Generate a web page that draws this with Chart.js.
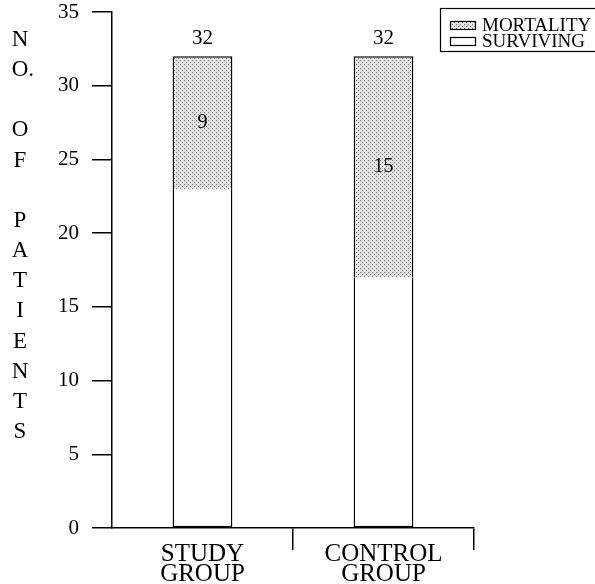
<!DOCTYPE html>
<html>
<head>
<meta charset="utf-8">
<script src="https://cdn.jsdelivr.net/npm/chart.js@4/dist/chart.umd.min.js"></script>
<style>
    body { margin: 0; background: #fff; }
    canvas { display: block; }
</style>
</head>
<body>
<canvas id="barChart1" width="595" height="584"></canvas>
<script>
// patients per group, stacked: surviving at the bottom, mortality on top
let categories = [['STUDY', 'GROUP'], ['CONTROL', 'GROUP']];
let surviving = [23, 17];
let mortality = [9, 15];
let yTicks = [0, 5, 10, 15, 20, 25, 30, 35];
let yTitle = ['N', 'O.', '', 'O', 'F', '', 'P', 'A', 'T', 'I', 'E', 'N', 'T', 'S'];

let serif = '"Liberation Serif", "Times New Roman", serif';

function dotPattern() {
    let c = document.createElement('canvas');
    c.width = 4;
    c.height = 4;
    let g = c.getContext('2d');
    g.fillStyle = '#e4e4e4';
    g.fillRect(0, 0, 4, 4);
    g.fillStyle = '#6a6a6a';
    g.fillRect(0, 0, 1, 1);
    g.fillRect(2, 2, 1, 1);
    return g.createPattern(c, 'repeat');
}

// vertical stacked-letter axis title, totals above bars, values inside, legend box
let extras = {
    id: 'extras',
    afterDraw: function (chart) {
        let ctx = chart.ctx;
        ctx.save();
        ctx.fillStyle = '#000';
        ctx.textBaseline = 'middle';

        // y axis title
        ctx.font = '23px ' + serif;
        for (let i = 0; i < yTitle.length; i++) {
            let t = yTitle[i];
            if (!t) continue;
            let y = 40 + i * 30.15;
            let w = ctx.measureText(t.charAt(0)).width;
            ctx.textAlign = 'left';
            ctx.fillText(t, 20 - w / 2, y);
        }

        // totals and mortality counts
        let top = chart.getDatasetMeta(1).data;
        ctx.textAlign = 'center';
        for (let i = 0; i < top.length; i++) {
            let bar = top[i];
            ctx.font = '21px ' + serif;
            ctx.fillText(String(surviving[i] + mortality[i]), bar.x, bar.y - 18);
            ctx.font = '20px ' + serif;
            ctx.fillText(String(mortality[i]), bar.x, (bar.y + bar.base) / 2);
        }

        // legend
        let ds = chart.data.datasets;
        ctx.lineWidth = 1.2;
        ctx.strokeStyle = '#000';
        ctx.strokeRect(440.5, 8.5, 170, 43);
        ctx.font = '19px ' + serif;
        ctx.textAlign = 'left';
        ctx.textBaseline = 'alphabetic';
        let rows = [ds[1], ds[0]];
        for (let i = 0; i < rows.length; i++) {
            let y = 21 + i * 16;
            ctx.fillStyle = rows[i].backgroundColor;
            ctx.fillRect(450, y, 25, 8);
            ctx.strokeRect(450.5, y + 0.5, 25, 8);
            ctx.fillStyle = '#000';
            ctx.fillText(rows[i].label, 482, y + 10);
        }
        ctx.restore();
    }
};

function dataChart() {
    let ctx = document.getElementById('barChart1').getContext('2d');
    let myChart = new Chart(ctx, {
        type: 'bar',
        data: {
            labels: categories,
            datasets: [{
                label: 'SURVIVING',
                data: surviving,
                backgroundColor: '#ffffff',
                borderColor: '#000000',
                borderWidth: { left: 1.5, right: 1.5, top: 0, bottom: 1.5 },
                borderSkipped: false
            }, {
                label: 'MORTALITY',
                data: mortality,
                backgroundColor: dotPattern(),
                borderColor: '#000000',
                borderWidth: { left: 1.5, right: 1.5, top: 1.5, bottom: 0 },
                borderSkipped: false
            }]
        },
        options: {
            responsive: false,
            animation: false,
            categoryPercentage: 1,
            barPercentage: 0.33,
            layout: { padding: { left: 0, right: 121, top: 12, bottom: 0 } },
            plugins: {
                legend: { display: false },
                tooltip: { enabled: false }
            },
            scales: {
                x: {
                    stacked: true,
                    afterFit: function (s) { s.height = 56; },
                    border: { display: true, color: '#000', width: 1.5 },
                    grid: {
                        offset: true,
                        drawOnChartArea: false,
                        tickLength: 22,
                        lineWidth: 1.5,
                        color: function (c) { return c.index === 0 ? 'rgba(0,0,0,0)' : '#000'; }
                    },
                    ticks: {
                        color: '#000',
                        padding: -6,
                        font: { family: serif, size: 25, lineHeight: 0.8 }
                    }
                },
                y: {
                    stacked: true,
                    min: 0,
                    max: 35,
                    afterFit: function (s) {
                        s.width = 112;
                        s.paddingTop = 0;
                        s.paddingBottom = 0;
                    },
                    afterBuildTicks: function (s) { s.ticks = yTicks.map(function (v) { return { value: v }; }); },
                    border: { display: true, color: '#000', width: 1.5 },
                    grid: {
                        drawOnChartArea: false,
                        tickLength: 20,
                        lineWidth: 1.5,
                        color: '#000'
                    },
                    ticks: {
                        color: '#000',
                        padding: 13,
                        font: { family: serif, size: 21 }
                    }
                }
            }
        },
        plugins: [extras]
    });
}

dataChart();
</script>
</body>
</html>
